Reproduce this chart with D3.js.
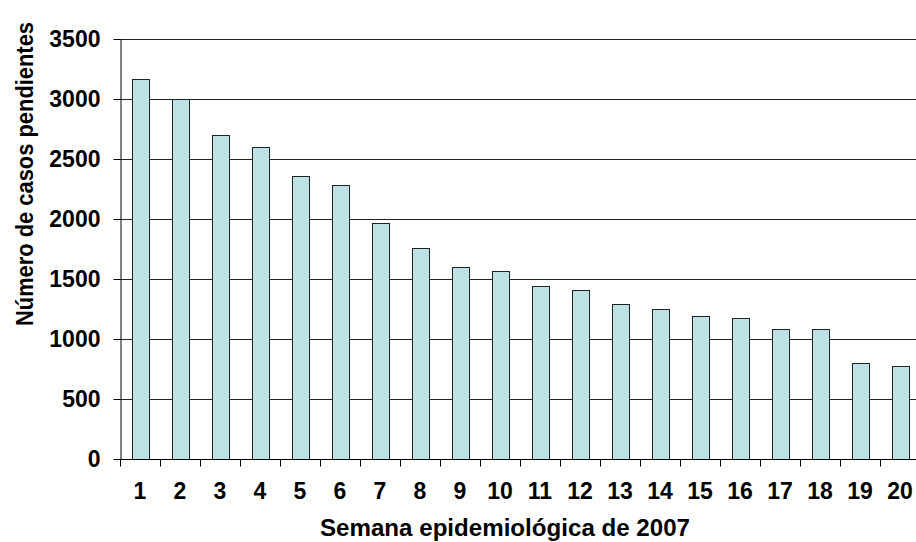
<!DOCTYPE html>
<html>
<head>
<meta charset="utf-8">
<script src="https://cdn.jsdelivr.net/npm/d3@7"></script>
<style>
  html, body { margin: 0; padding: 0; background: #fff; }
  svg { display: block; font-family: Arial, "Liberation Sans", sans-serif; }
  text { font-weight: bold; fill: #000; }
</style>
</head>
<body>
<div id="chart"></div>
<script>
// Casos pendientes por semana epidemiológica, 2007.

const WEEKS  = ['1','2','3','4','5','6','7','8','9','10','11','12','13','14','15','16','17','18','19','20'];
const CASES  = [3165, 3000, 2697, 2600, 2360, 2280, 1963, 1760, 1600, 1567, 1442, 1406, 1292, 1247, 1189, 1178, 1081, 1081, 797, 778];
const Y_TICKS = [0, 500, 1000, 1500, 2000, 2500, 3000, 3500];

const X_TITLE = 'Semana epidemiológica de 2007';
const Y_TITLE = 'Número de casos pendientes';

const W = 916, H = 542;
const m = { top: 39, right: -4, bottom: 83, left: 120 };
const iw = W - m.left - m.right;
const ih = H - m.top - m.bottom;

const svg = d3.select('#chart').append('svg').attr('width', W).attr('height', H);
const g = svg.append('g').attr('transform', `translate(${m.left},${m.top})`);

const x = d3.scaleBand().domain(WEEKS).range([0, iw]).paddingInner(0.575).paddingOuter(0.2875);
const xSlot = d3.scaleBand().domain(WEEKS).range([0, iw]).padding(0);
const y = d3.scaleLinear().domain([0, 3500]).range([ih, 0]);

// gridlines
g.append('g').selectAll('line').data(Y_TICKS.filter(d => d > 0)).enter().append('line')
  .attr('x1', 0).attr('x2', iw)
  .attr('y1', d => Math.round(y(d)) + 0.5).attr('y2', d => Math.round(y(d)) + 0.5)
  .attr('stroke', '#222').attr('stroke-width', 1);

// bars
g.append('g').selectAll('rect').data(CASES).enter().append('rect')
  .attr('x', (d, i) => Math.round(x(WEEKS[i])) + 0.5)
  .attr('y', d => Math.round(y(d)) + 0.5)
  .attr('width', Math.round(x.bandwidth()))
  .attr('height', d => Math.round(y(0)) - Math.round(y(d)))
  .attr('fill', '#bde1e4').attr('stroke', '#222').attr('stroke-width', 1);

// y axis
const yAx = g.append('g').attr('transform', 'translate(0.5,0)')
  .call(d3.axisLeft(y).tickValues(Y_TICKS).tickFormat(d3.format('d'))
    .tickSize(7).tickPadding(13).tickSizeOuter(0));
yAx.select('.domain').attr('stroke', '#000');
yAx.selectAll('.tick line').attr('stroke', '#000');
yAx.selectAll('.tick text').style('font-size', '23px').style('font-weight', 'bold')
  .style('font-family', 'Arial, "Liberation Sans", sans-serif').attr('fill', '#000');

// x axis: baseline with tick marks between categories
const xAx = g.append('g').attr('transform', `translate(0,${Math.round(ih) + 0.5})`);
xAx.append('line').attr('x1', 0).attr('x2', iw).attr('stroke', '#000');
xAx.selectAll('line.tk').data(WEEKS).enter().append('line').attr('class', 'tk')
  .attr('x1', d => Math.round(xSlot(d)) + 0.5).attr('x2', d => Math.round(xSlot(d)) + 0.5)
  .attr('y1', 0).attr('y2', 7).attr('stroke', '#000');
xAx.selectAll('text').data(WEEKS).enter().append('text')
  .attr('x', d => xSlot(d) + xSlot.bandwidth() / 2)
  .attr('y', 39)
  .attr('text-anchor', 'middle')
  .style('font-size', '23px')
  .text(d => d);

// axis titles
svg.append('text')
  .attr('x', 505).attr('y', 536)
  .attr('text-anchor', 'middle')
  .attr('textLength', 370).attr('lengthAdjust', 'spacingAndGlyphs')
  .style('font-size', '24px')
  .text(X_TITLE);

svg.append('text')
  .attr('transform', 'translate(33,174) rotate(-90)')
  .attr('text-anchor', 'middle')
  .attr('textLength', 304).attr('lengthAdjust', 'spacingAndGlyphs')
  .style('font-size', '23px')
  .text(Y_TITLE);
</script>
</body>
</html>
